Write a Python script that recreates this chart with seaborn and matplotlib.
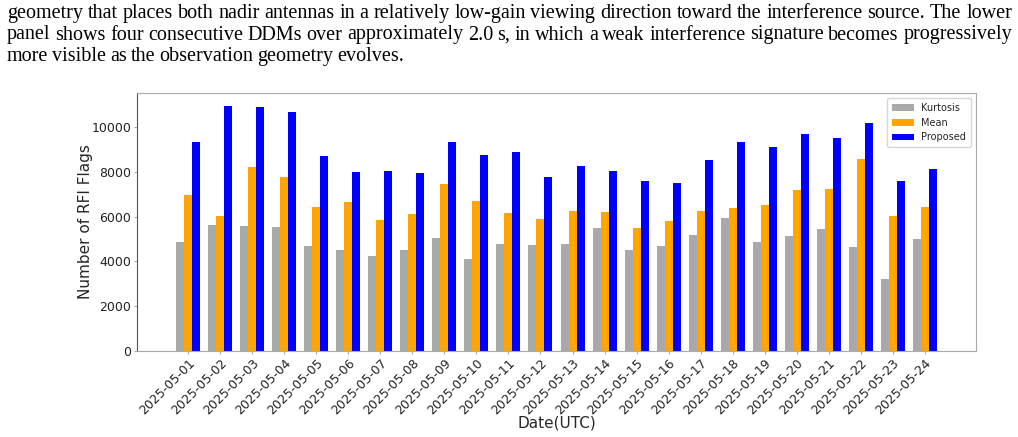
import seaborn as sns
import matplotlib.pyplot as plt
import numpy as np
import pandas as pd

dates = ["2025-05-%02d" % d for d in range(1, 25)]
kurtosis = [4860, 5620, 5570, 5540, 4670, 4520, 4250, 4500, 5040, 4110, 4800, 4740,
            4770, 5510, 4530, 4690, 5160, 5960, 4870, 5130, 5430, 4640, 3230, 4990]
mean = [6950, 6010, 8210, 7790, 6440, 6660, 5830, 6130, 7470, 6710, 6140, 5900,
        6240, 6220, 5480, 5810, 6270, 6380, 6540, 7170, 7240, 8570, 6010, 6440]
proposed = [9340, 10950, 10890, 10690, 8700, 7990, 8030, 7940, 9330, 8760, 8880, 7770,
            8270, 8030, 7590, 7510, 8510, 9340, 9120, 9670, 9520, 10190, 7590, 8120]
methods = ["Kurtosis", "Mean", "Proposed"]
colors = ["darkgray", "orange", "blue"]

paragraph = [
    "geometry that places both nadir antennas in a relatively low-gain viewing direction toward the interference source. The lower",
    "panel shows four consecutive DDMs over approximately 2.0 s, in which a weak interference signature becomes progressively",
    "more visible as the observation geometry evolves.",
]

df = pd.DataFrame({
    "Date": dates * 3,
    "Count": kurtosis + mean + proposed,
    "Method": np.repeat(methods, len(dates)),
})

sns.set_style("ticks")
W, H = 1018, 437
fig = plt.figure(figsize=(W / 100, H / 100), dpi=100)
ax = fig.add_axes([137 / W, 1 - 351 / H, (976 - 137) / W, (351 - 93) / H])

sns.barplot(data=df, x="Date", y="Count", hue="Method", palette=colors,
            width=0.75, saturation=1, linewidth=0, ax=ax)
ax.set_xlim(-1.6, 24.6)
ax.set_ylim(0, 11520)
ax.set_yticks(range(0, 10001, 2000))
ax.set_xlabel("Date(UTC)", fontsize=11, labelpad=-1)
ax.set_ylabel("Number of RFI Flags", fontsize=11, labelpad=-1)
ax.tick_params(axis="both", labelsize=9, labelcolor="#222222", color="#aaaaaa",
               length=2, pad=2)
plt.setp(ax.get_xticklabels(), rotation=45, ha="right", rotation_mode="anchor")
for s in ax.spines.values():
    s.set_color("#aaaaaa")
ax.spines["left"].set_color("#555555")
ax.legend(title=None, loc="upper right", fontsize=7, frameon=True,
          borderpad=0.5, handlelength=2.2)

# paragraph text above the chart, justified like the page it came from
renderer = fig.canvas.get_renderer()
x0, x1 = 7, 1012
for i, line in enumerate(paragraph):
    y = 1 - (18 + i * 21.5) / H
    words = line.split(" ")
    texts = [fig.text(0, y, w, fontsize=14.5, family="Liberation Serif",
                      color="black", va="baseline") for w in words]
    widths = [t.get_window_extent(renderer).width for t in texts]
    if i < len(paragraph) - 1:
        gap = (x1 - x0 - sum(widths)) / (len(words) - 1)
    else:
        gap = 4.0
    x = x0
    for t, w in zip(texts, widths):
        t.set_position((x / W, y))
        x += w + gap

fig.savefig("out.png", dpi=100)
